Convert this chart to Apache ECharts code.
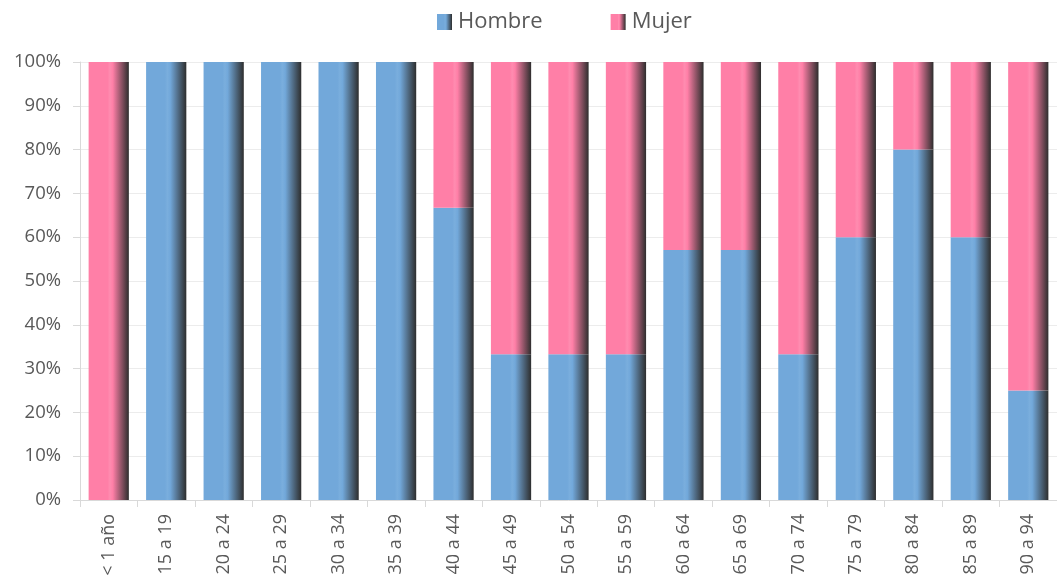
<!DOCTYPE html>
<html>
<head>
<meta charset="utf-8">
<script src="https://cdn.jsdelivr.net/npm/echarts@6/dist/echarts.min.js"></script>
<style>html,body{margin:0;padding:0;background:#fff}#c{width:1057px;height:580px}</style>
</head>
<body>
<div id="c"></div>
<script>
var categories = ['< 1 año','15 a 19','20 a 24','25 a 29','30 a 34','35 a 39','40 a 44','45 a 49','50 a 54','55 a 59','60 a 64','65 a 69','70 a 74','75 a 79','80 a 84','85 a 89','90 a 94'];
var hombre = [0,100,100,100,100,100,66.7,33.3,33.3,33.3,57.1,57.1,33.3,60,80,60,25];
var mujer  = [100,0,0,0,0,0,33.3,66.7,66.7,66.7,42.9,42.9,66.7,40,20,40,75];
var yTicks = ['0%','10%','20%','30%','40%','50%','60%','70%','80%','90%','100%'];

function grad(c, light){
  return new echarts.graphic.LinearGradient(0,0,1,0,[
    {offset:0,color:c},{offset:0.47,color:c},{offset:0.53,color:light},
    {offset:0.6,color:c},{offset:1,color:'#2e2e2e'}]);
}
var BLUE='#72A8DA', PINK='#FF7FA7';
var chart = echarts.init(document.getElementById('c'));
var FONT = '"Open Sans", sans-serif';
chart.setOption({
  animation:false,
  legend:{
    top:11, left:437, padding:0, itemWidth:15, itemHeight:16, itemGap:68, icon:'rect',
    textStyle:{fontFamily:FONT,fontSize:22,color:'#595959',padding:[0,0,0,1]},
    data:[{name:'Hombre',itemStyle:{color:grad(BLUE,'#7aaedd')}},{name:'Mujer',itemStyle:{color:grad(PINK,'#ff8cb0')}}]
  },
  grid:{left:80, top:62, width:990, height:438, containLabel:false},
  xAxis:{
    type:'category', data:categories,
    axisLine:{lineStyle:{color:'#d9d9d9',width:1}},
    axisTick:{show:true,length:7,lineStyle:{color:'#d9d9d9'}},
    axisLabel:{rotate:90,fontFamily:FONT,fontSize:18,color:'#595959',margin:14,interval:0}
  },
  yAxis:{
    type:'value', min:0, max:100, interval:10,
    axisLine:{show:true,lineStyle:{color:'#d9d9d9'}},
    axisTick:{show:true,length:7,lineStyle:{color:'#d9d9d9'}},
    splitLine:{lineStyle:{color:'#ececec',width:1}},
    axisLabel:{fontFamily:FONT,fontSize:18.5,color:'#595959',margin:19,
      formatter:function(v){return yTicks[Math.round(v/10)];}}
  },
  series:[
    {name:'Hombre',type:'bar',stack:'a',data:hombre,barCategoryGap:'30%',itemStyle:{color:grad(BLUE,'#7aaedd')}},
    {name:'Mujer',type:'bar',stack:'a',data:mujer,barCategoryGap:'30%',itemStyle:{color:grad(PINK,'#ff8cb0')}}
  ]
});
</script>
</body>
</html>
